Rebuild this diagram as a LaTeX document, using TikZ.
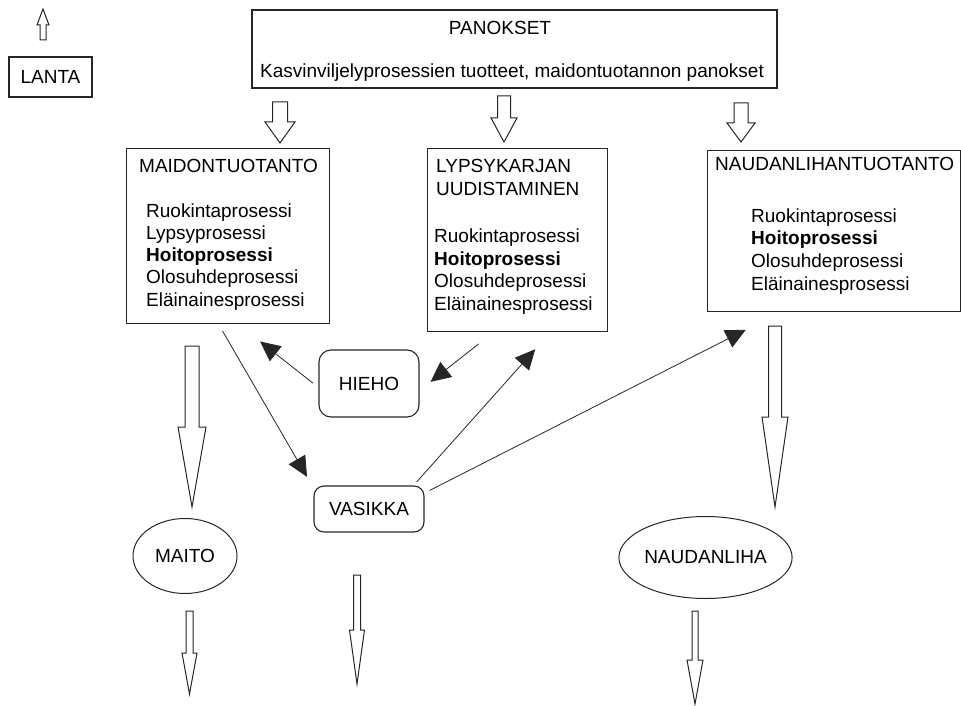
\documentclass[tikz,border=0pt]{standalone}
\usepackage{fontspec}
\setmainfont{Liberation Sans}
\usetikzlibrary{arrows.meta, shapes.geometric}

\tikzset{
  box/.style={draw=black!85, line width=1.1pt, rectangle, inner sep=0pt},
  roundbox/.style={box, rounded corners=12pt},
  ell/.style={draw=black!85, line width=1pt, ellipse, inner sep=0pt},
  txt/.style={anchor=base west, inner sep=0pt},
  blk/.style={draw=black!85, fill=white, line width=1pt, line join=miter},
  link/.style={->, draw=black!85, line width=0.8pt}
}

\begin{document}
\begin{tikzpicture}[x=1pt, y=-1pt, font=\fontsize{19}{22}\selectfont,
    >={Triangle[length=20pt, width=19pt]}]

  \useasboundingbox (0,0) rectangle (961,706);

  % --- LANTA JA PANOKSET ---
  \node[box, minimum width=83, minimum height=40] (lanta) at (50.5,77) {LANTA};
  \node[box, minimum width=525, minimum height=78] (panokset) at (514.5,49) {};
  \node[anchor=base, inner sep=0pt] (panT) at (500,35) {PANOKSET};
  \node[anchor=base, inner sep=0pt] (panS) at (512,78)
    {Kasvinviljelyprosessien tuotteet, maidontuotannon panokset};

  % --- PROSESSILAATIKOT ---
  \node[box, anchor=north west, minimum width=203, minimum height=175] (maid) at (126,148) {};
  \node[box, anchor=north west, minimum width=180, minimum height=183] (lyps) at (427,148) {};
  \node[box, anchor=north west, minimum width=253, minimum height=161] (naud) at (707,150) {};

  % Maidontuotanto
  \node[txt] (maidT) at (139,172) {MAIDONTUOTANTO};
  \foreach \t [count=\i] in {Ruokintaprosessi, Lypsyprosessi, \textbf{Hoitoprosessi},
      Olosuhdeprosessi, Eläinainesprosessi}
    \node[txt] (maid\i) at (146,{195+22.2*\i}) {\t};

  % Lypsykarjan uudistaminen
  \node[txt] (lypsT1) at (436,172) {LYPSYKARJAN};
  \node[txt] (lypsT2) at (436,195) {UUDISTAMINEN};
  \foreach \t [count=\i] in {Ruokintaprosessi, \textbf{Hoitoprosessi},
      Olosuhdeprosessi, Eläinainesprosessi}
    \node[txt] (lyps\i) at (434,{220.5+22.4*\i}) {\t};

  % Naudanlihantuotanto
  \node[txt] (naudT) at (715,171) {NAUDANLIHANTUOTANTO};
  \foreach \t [count=\i] in {Ruokintaprosessi, \textbf{Hoitoprosessi},
      Olosuhdeprosessi, Eläinainesprosessi}
    \node[txt] (naud\i) at (751,{199.3+22.7*\i}) {\t};

  % --- ELAIMET JA TUOTTEET ---
  \node[roundbox, minimum width=100, minimum height=67] (hieho) at (369,383.5) {HIEHO};
  \node[roundbox, rounded corners=10pt, minimum width=110, minimum height=46] (vasikka) at (369,509) {VASIKKA};
  \node[ell, minimum width=104, minimum height=75] (maito) at (185,556) {MAITO};
  \node[ell, minimum width=166, minimum height=82] (naudanliha) at (705.5,557.5) {NAUDANLIHA};

  % --- ONTOT NUOLET (x / hanta / karjen tyvi / karki / varsi / karki) ---
  \foreach \x/\a/\b/\c/\s/\h in {43/40/25/9/3/6,
      280/102/122/143/7.5/15, 504/96/118/142/6.5/13, 741/103/123/142/7/14,
      192/346/427/507/7/14, 775/326/417/507/6.5/13,
      189.5/611/653/694/3.5/7.5, 357/575/630/684/3.5/7.5, 695/611/660/704/3/8}
    \draw[blk] ({\x-\s},\a) -- ({\x+\s},\a) -- ({\x+\s},\b) -- ({\x+\h},\b)
      -- (\x,\c) -- ({\x-\h},\b) -- ({\x-\s},\b) -- cycle;

  % --- ELAINTEN SIIRROT ---
  \draw[link, shorten <=8pt, shorten >=10pt] ([xshift=-9.5pt]maid.south) -- ([xshift=-57pt]vasikka.north);
  \draw[link, shorten <=7pt, shorten >=28pt] ([yshift=-4pt]hieho.west) -- ([xshift=10pt]maid.south);
  \draw[link, shorten <=19pt, shorten >=14pt] ([xshift=-24pt]lyps.south) -- ([yshift=-7pt]hieho.east);
  \draw[link, shorten <=5pt, shorten >=23pt] ([xshift=44.5pt]vasikka.north) -- ([xshift=33pt]lyps.south);
  \draw[link, shorten <=5.6pt, shorten >=39pt] ([yshift=16pt]vasikka.east) -- ([xshift=-53.5pt]naud.south);

\end{tikzpicture}
\end{document}
